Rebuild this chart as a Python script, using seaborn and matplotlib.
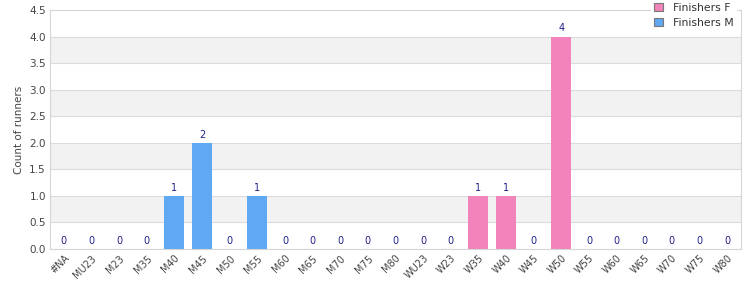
import matplotlib
matplotlib.use("Agg")
import matplotlib.pyplot as plt
from matplotlib.patches import Patch
import seaborn as sns
import pandas as pd

categories = ["#NA", "MU23", "M23", "M35", "M40", "M45", "M50", "M55", "M60", "M65",
              "M70", "M75", "M80", "WU23", "W23", "W35", "W40", "W45", "W50", "W55",
              "W60", "W65", "W70", "W75", "W80"]
finishers_m = [0, 0, 0, 0, 1, 2, 0, 1, 0, 0, 0, 0, 0, 0, 0, 0, 0, 0, 0, 0, 0, 0, 0, 0, 0]
finishers_f = [0, 0, 0, 0, 0, 0, 0, 0, 0, 0, 0, 0, 0, 0, 0, 1, 1, 0, 4, 0, 0, 0, 0, 0, 0]
series_names = ["Finishers F", "Finishers M"]
yticks = [0.0, 0.5, 1.0, 1.5, 2.0, 2.5, 3.0, 3.5, 4.0, 4.5]

col_f = "#f283bb"
col_m = "#5fa8f3"

rows = []
for c, m, f in zip(categories, finishers_m, finishers_f):
    rows.append({"cat": c, "series": "Finishers M", "value": m})
    rows.append({"cat": c, "series": "Finishers F", "value": f})
df = pd.DataFrame(rows)

sns.set_theme(style="white")
plt.rcParams['font.family'] = ['DejaVu Sans']

fig = plt.figure(figsize=(7.5, 3.0), dpi=100)
ax = fig.add_axes([50/750, 1 - 249/300, (741-50)/750, (249-10)/300])

# alternating bands
for lo in [0.5, 1.5, 2.5, 3.5]:
    ax.axhspan(lo, lo + 0.5, color="#f2f2f2", zorder=0, lw=0)
for y in yticks:
    ax.axhline(y, color="#dcdcdc", lw=0.8, zorder=0.5)

sns.barplot(data=df, x="cat", y="value", hue="series", order=categories,
            hue_order=series_names, palette={"Finishers F": col_f, "Finishers M": col_m},
            dodge=False, width=0.72, ax=ax, legend=False, zorder=2, saturation=1,
            linewidth=0, edgecolor="none")

totals = [m + f for m, f in zip(finishers_m, finishers_f)]
for i, t in enumerate(totals):
    ax.text(i, t + 0.06, f"{t:g}", ha="center", va="bottom", fontsize=7, color="#1f1f8a", zorder=3)

ax.set_ylim(0, 4.5)
ax.set_xlim(-0.5, len(categories) - 0.5)
ax.set_yticks(yticks)
ax.set_yticklabels([f"{y:.1f}" for y in yticks], fontsize=7.5, color="#444444")
ax.set_xticks(range(len(categories)))
ax.set_xticklabels(categories, rotation=45, ha="right", rotation_mode="anchor",
                   fontsize=7, color="#444444")
ax.tick_params(axis="both", length=0, pad=3)
ax.set_xlabel("")
ax.set_ylabel("Count of runners", fontsize=7.5, color="#444444")
for s in ax.spines.values():
    s.set_color("#d5d5d5")
    s.set_linewidth(0.8)

handles = [Patch(facecolor=col_f, edgecolor="#777777", lw=0.8),
           Patch(facecolor=col_m, edgecolor="#777777", lw=0.8)]
leg = fig.legend(handles, series_names, loc="upper right", bbox_to_anchor=(736/750, 1.0),
                 fontsize=7.8, frameon=True, handlelength=0.8, handleheight=0.8,
                 handletextpad=0.9, labelspacing=0.45, borderpad=0.25, borderaxespad=0)
leg.get_frame().set_facecolor("white")
leg.get_frame().set_edgecolor("white")
leg.get_frame().set_alpha(1)
leg.set_zorder(10)
for t in leg.get_texts():
    t.set_color("#333333")

fig.savefig("out.png", dpi=100)
